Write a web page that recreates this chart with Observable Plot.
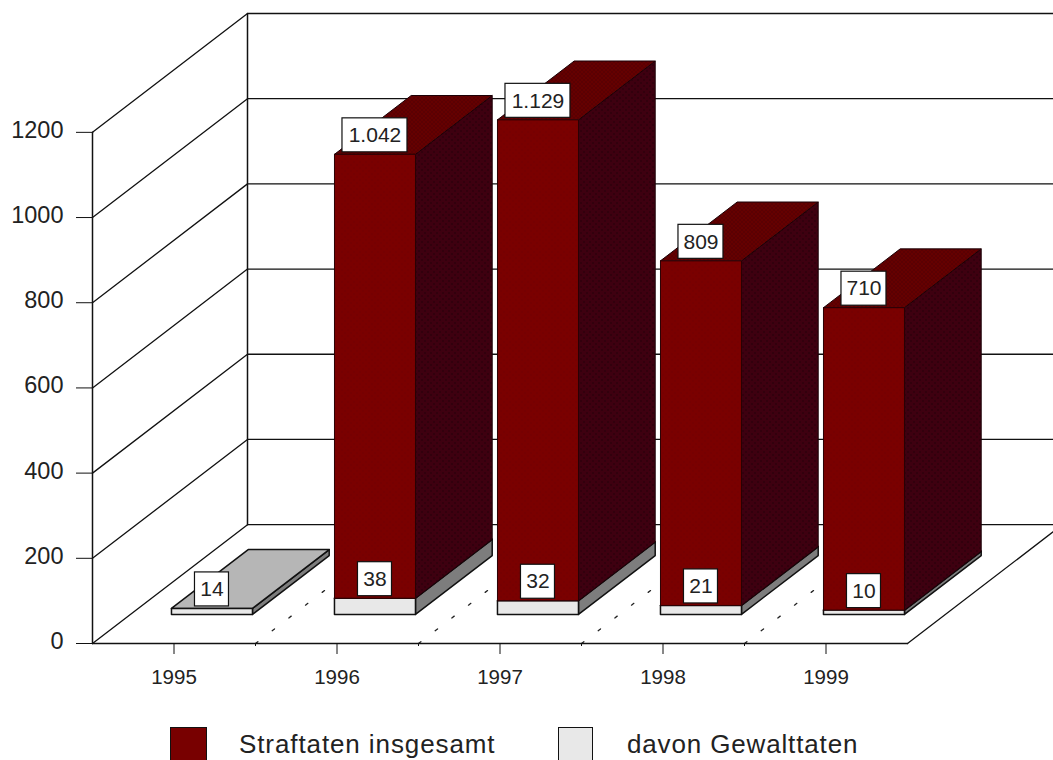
<!DOCTYPE html>
<html lang="de">
<head>
<meta charset="utf-8">
<script src="https://cdn.jsdelivr.net/npm/d3@7"></script>
<script src="https://cdn.jsdelivr.net/npm/@observablehq/plot@0.6"></script>
<style>
  html, body { margin: 0; padding: 0; background: #fff; overflow: hidden; }
  #chart svg { display: block; }
  #legend { position: relative; height: 38px; overflow: hidden; font: 26px "Liberation Sans", Arial, sans-serif; color: #222; }
  #legend .sw { position: absolute; top: 5px; height: 36px; box-sizing: border-box; border: 1.5px solid #111; }
  #legend .lb { position: absolute; top: 6px; line-height: 32px; white-space: nowrap; }
</style>
</head>
<body>
<svg width="0" height="0" style="position:absolute">
  <defs>
    <pattern id="ditherSide" width="6" height="6" patternUnits="userSpaceOnUse">
      <rect width="6" height="6" fill="#3e0010"/>
      <rect x="1" y="1" width="1" height="1" fill="#0c0004"/>
      <rect x="4" y="4" width="1" height="1" fill="#0c0004"/>
    </pattern>
    <pattern id="ditherTop" width="4" height="4" patternUnits="userSpaceOnUse">
      <rect width="4" height="4" fill="#650000"/>
      <rect x="1" y="1" width="1" height="1" fill="#3a0008"/>
      <rect x="3" y="3" width="1" height="1" fill="#3a0008"/>
    </pattern>
    <pattern id="ditherFront" width="6" height="6" patternUnits="userSpaceOnUse">
      <rect width="6" height="6" fill="#7a0000"/>
      <rect x="2" y="2" width="1" height="1" fill="#6a0004"/>
      <rect x="5" y="5" width="1" height="1" fill="#6a0004"/>
    </pattern>
  </defs>
</svg>
<div id="chart"></div>
<div id="legend"></div>
<script>
// Data
const years = [1995, 1996, 1997, 1998, 1999];
const straftaten = [0, 1042, 1129, 809, 710];
const gewalttaten = [14, 38, 32, 21, 10];
const yTicks = [0, 200, 400, 600, 800, 1000, 1200];
const seriesNames = ["Straftaten insgesamt", "davon Gewalttaten"];

// Oblique projection of the chart's 3D box onto the library's x and y scales.
// depth 0 is the front edge of the floor, depth 1 the back wall.
const DEPTH_X = 155 / 163;   // shift along x (in years) for full depth
const DEPTH_V = 279;         // shift along y (in value units) for full depth
const BAR_HALF = 0.2485;     // half bar width in years
const D0 = 0.245, D1 = 0.74; // bar's front and back depth
const X0 = years[0] - 0.5, X1 = years[years.length - 1] + 0.5;

const P = (x, v, d = 0) => ({ px: x + d * DEPTH_X, py: v + d * DEPTH_V });
const deLocale = d3.formatLocale({ decimal: ",", thousands: ".", grouping: [3], currency: ["", "€"] });
const fmt = deLocale.format(",d");

// Box faces for one stacked segment
const box = (kind, year, v0, v1) => {
  const xa = year - BAR_HALF, xb = year + BAR_HALF;
  const face = (name, pts) => pts.concat(pts[0]).map((p) => ({ ...p, face: `${kind}-${name}-${year}`, part: name }));
  return [
    ...face("side", [P(xb, v0, D0), P(xb, v0, D1), P(xb, v1, D1), P(xb, v1, D0)]),
    ...face("top", [P(xa, v1, D0), P(xb, v1, D0), P(xb, v1, D1), P(xa, v1, D1)]),
    ...face("front", [P(xa, v0, D0), P(xb, v0, D0), P(xb, v1, D0), P(xa, v1, D0)])
  ];
};

const lowFaces = years.flatMap((y, i) => box("low", y, 0, gewalttaten[i]));
const highFaces = years.flatMap((y, i) => straftaten[i] > 0
  ? box("high", y, gewalttaten[i], gewalttaten[i] + straftaten[i]) : []);

const faceMark = (rows, part, fill, stroke = "#111", strokeWidth = 1.5) =>
  Plot.line(rows.filter((r) => r.part === part), { x: "px", y: "py", z: "face", fill, stroke, strokeWidth });

// Frame: gridlines across left wall and back wall, floor
const wallLines = yTicks.flatMap((v) => [
  { ...P(X0, v, 0), v }, { ...P(X0, v, 1), v }, { ...P(X1 + 1, v, 1), v }
]);
const leftEdge = [P(X0, 0, 0), P(X0, 1200, 0)];
const backEdge = [P(X0, 0, 1), P(X0, 1200, 1)];
const floorRight = [P(X1, 0, 0), P(X1, 0, 1)];
const floorFront = [P(X0, 0, 0), P(X1, 0, 0)];
const floorDashes = d3.range(X0 + 1, X1, 1).flatMap((x) => [
  { ...P(x, 0, 0), x }, { ...P(x, 0, 1), x }
]);

// Labels
const labelRows = [
  ...years.map((y, i) => ({ x: y + D0 * DEPTH_X, top: gewalttaten[i] + D0 * DEPTH_V, n: gewalttaten[i] })),
  ...years.map((y, i) => ({ x: y + D0 * DEPTH_X, top: gewalttaten[i] + straftaten[i] + D0 * DEPTH_V, n: straftaten[i] }))
].filter((d) => d.n > 0);

const labelBoxes = [[1000, Infinity, 32.5], [100, 1000, 22.5], [0, 100, 17]].map(([a, b, hw]) =>
  Plot.rect(labelRows.filter((d) => d.n >= a && d.n < b), {
    x1: "x", x2: "x", y1: "top", y2: "top",
    insetLeft: -hw, insetRight: -hw, insetTop: -36, insetBottom: 2,
    fill: "white", stroke: "#111", strokeWidth: 1.2
  })
);

const plot = Plot.plot({
  width: 1053,
  height: 722,
  marginLeft: 92,
  marginRight: 0,
  marginTop: 13,
  marginBottom: 79,
  style: { fontFamily: "'Liberation Sans', Arial, sans-serif", background: "white", color: "#222" },
  x: { domain: [X0, X0 + 961 / 163], axis: null },
  y: { domain: [0, 1200 + DEPTH_V], axis: null },
  marks: [
    Plot.line(wallLines, { x: "px", y: "py", z: "v", stroke: "#111", strokeWidth: 1.3 }),
    Plot.line(leftEdge, { x: "px", y: "py", stroke: "#111", strokeWidth: 1.5 }),
    Plot.line(backEdge, { x: "px", y: "py", stroke: "#111", strokeWidth: 1.5 }),
    Plot.line(floorRight, { x: "px", y: "py", stroke: "#111", strokeWidth: 1.3 }),
    Plot.line(floorDashes, { x: "px", y: "py", z: "x", stroke: "#222", strokeWidth: 1.3, strokeDasharray: "3 18" }),

    faceMark(lowFaces, "side", "#7d7d7d"),
    faceMark(lowFaces, "top", "#b6b6b6"),
    faceMark(lowFaces, "front", "#e8e8e8"),
    faceMark(highFaces, "side", "url(#ditherSide)", "#1c0006", 1),
    faceMark(highFaces, "top", "url(#ditherTop)", "#1c0006", 1),
    faceMark(highFaces, "front", "url(#ditherFront)", "#2a0004", 1),

    Plot.line(floorFront, { x: "px", y: "py", stroke: "#111", strokeWidth: 1.5 }),

    Plot.axisY({ anchor: "left", ticks: yTicks, tickSize: 16, label: null, tickFormat: () => "", stroke: "#111" }),
    Plot.axisY({ anchor: "left", ticks: yTicks, tickSize: 0, tickPadding: 29, fontSize: 23.5, dy: -2, label: null, tickFormat: (d) => String(d) }),
    Plot.axisX({ anchor: "bottom", ticks: years, tickSize: 11, tickPadding: 15, fontSize: 20.5, label: null, tickFormat: (d) => String(d), stroke: "#111" }),
    Plot.axisX({ anchor: "bottom", ticks: d3.range(X0 + 1, X1, 1), tickSize: 3, label: null, tickFormat: () => "", stroke: "#111" }),

    ...labelBoxes,
    Plot.text(labelRows, { x: "x", y: "top", dy: -19, text: (d) => fmt(d.n), fontSize: 21, fill: "#222", lineAnchor: "middle" })
  ]
});
document.getElementById("chart").append(plot);

// Legend
const legend = document.getElementById("legend");
const swatchColors = ["#780000", "#e8e8e8"];
const swatchPos = [[170, 37], [558, 35]];
const labelPos = [239, 627];
const labelTrack = ["0.9px", "0.85px"];
seriesNames.forEach((name, i) => {
  const s = document.createElement("div");
  s.className = "sw";
  s.style.left = swatchPos[i][0] + "px";
  s.style.width = swatchPos[i][1] + "px";
  s.style.background = swatchColors[i];
  legend.append(s);
  const l = document.createElement("div");
  l.className = "lb";
  l.style.left = labelPos[i] + "px";
  l.style.letterSpacing = labelTrack[i];
  l.textContent = name;
  legend.append(l);
});
</script>
</body>
</html>
